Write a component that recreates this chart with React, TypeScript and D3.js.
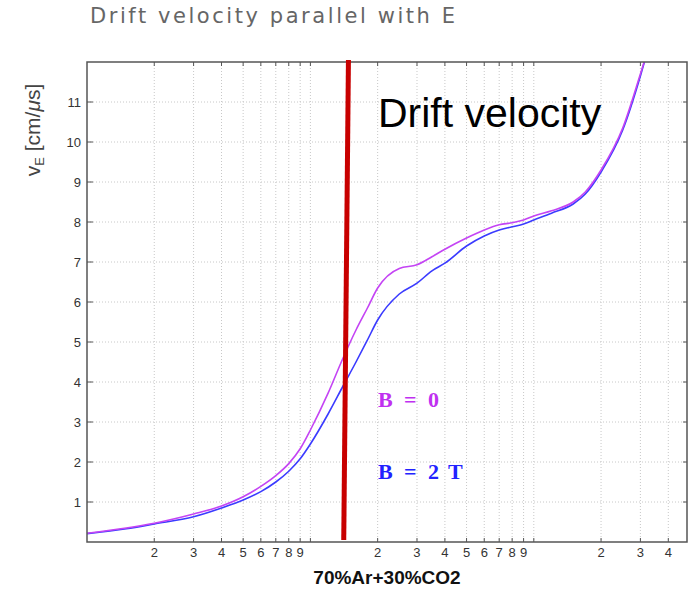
import React from "react";
import * as d3 from "d3";

// E field (log axis) and drift velocity in cm/us
const eField = [1, 1.5, 2, 3, 4, 5, 6, 7, 8, 9, 10, 12, 14, 16, 18, 20, 25, 30, 35, 40, 50, 60, 70, 80, 90, 100, 120, 150, 170, 200, 250, 300, 320];
const vB0 = [0.22, 0.35, 0.47, 0.7, 0.9, 1.13, 1.39, 1.66, 1.96, 2.33, 2.8, 3.72, 4.6, 5.3, 5.85, 6.35, 6.84, 6.93, 7.13, 7.32, 7.6, 7.8, 7.93, 7.98, 8.05, 8.15, 8.28, 8.5, 8.75, 9.3, 10.35, 11.7, 12.2];
const vB2T = [0.21, 0.33, 0.45, 0.63, 0.85, 1.05, 1.26, 1.5, 1.77, 2.08, 2.45, 3.2, 3.9, 4.5, 5.05, 5.55, 6.2, 6.47, 6.78, 6.97, 7.4, 7.65, 7.8, 7.88, 7.95, 8.05, 8.22, 8.45, 8.7, 9.25, 10.3, 11.65, 12.2];

const xTicks = [2, 3, 4, 5, 6, 7, 8, 9, 10, 20, 30, 40, 50, 60, 70, 80, 90, 100, 200, 300, 400];
const yTicks = [1, 2, 3, 4, 5, 6, 7, 8, 9, 10, 11];

// the hand drawn red marker
const markerE = [14.8, 14.1];
const markerV = [12.05, 0.05];

const W = 689;
const H = 589;
const m = { left: 87, right: 687, top: 62, bottom: 542 };

const App = () => {
  const x = d3.scaleLog().domain([1, 485]).range([m.left, m.right]);
  const y = d3.scaleLinear().domain([0, 12]).range([m.bottom, m.top]);

  const line = d3
    .line<number>()
    .x((d, i) => x(eField[i]))
    .y(d => y(d))
    .curve(d3.curveMonotoneX);

  const tickLabel = (t: number) => {
    const s = String(t);
    return s[0] === "1" ? "" : s[0];
  };

  return (
    <svg width={W} height={H} style={{ position: "absolute", left: 0, top: 0, background: "#fff" }}>
      <defs>
        <clipPath id="plot">
          <rect x={m.left} y={m.top} width={m.right - m.left} height={m.bottom - m.top} />
        </clipPath>
      </defs>

      <text x={90} y={23} fontFamily="DejaVu Sans" fontSize={21} fill="#666" textLength={365} lengthAdjust="spacing">
        Drift velocity parallel with E
      </text>

      {/* grid */}
      <g stroke="#c8c8c8" strokeWidth={1} strokeDasharray="1,2">
        {xTicks.map(t => (
          <line key={"gx" + t} x1={x(t)} x2={x(t)} y1={m.top} y2={m.bottom} />
        ))}
        {yTicks.map(t => (
          <line key={"gy" + t} x1={m.left} x2={m.right} y1={y(t)} y2={y(t)} />
        ))}
      </g>

      {/* ticks */}
      <g stroke="#555" strokeWidth={1}>
        {xTicks.map(t => (
          <g key={"tx" + t}>
            <line x1={x(t)} x2={x(t)} y1={m.bottom} y2={m.bottom - 4} />
            <line x1={x(t)} x2={x(t)} y1={m.top} y2={m.top + 4} />
          </g>
        ))}
        {yTicks.map(t => (
          <g key={"ty" + t}>
            <line x1={m.left} x2={m.left + 6} y1={y(t)} y2={y(t)} />
            <line x1={m.right} x2={m.right - 4} y1={y(t)} y2={y(t)} />
          </g>
        ))}
      </g>

      <g fontFamily="Liberation Sans, Arial" fontSize={13} fill="#333">
        {xTicks.map(t => (
          <text key={"lx" + t} x={x(t)} y={557} textAnchor="middle">
            {tickLabel(t)}
          </text>
        ))}
        {yTicks.map(t => (
          <text key={"ly" + t} x={81} y={y(t) + 5} textAnchor="end">
            {t}
          </text>
        ))}
      </g>

      <g clipPath="url(#plot)" fill="none" strokeWidth={1.6}>
        <path d={line(vB2T) || ""} stroke="#3b3bff" />
        <path d={line(vB0) || ""} stroke="#c444f4" />
      </g>

      <rect x={m.left} y={m.top} width={m.right - m.left} height={m.bottom - m.top} fill="none" stroke="#555" strokeWidth={1.5} />

      <line
        x1={x(markerE[0])}
        y1={y(markerV[0])}
        x2={x(markerE[1])}
        y2={y(markerV[1])}
        stroke="#c80000"
        strokeWidth={5}
      />

      <text x={378} y={127} fontFamily="Liberation Sans, Arial" fontSize={41} fill="#000">
        Drift velocity
      </text>

      <text x={378} y={407} fontFamily="Liberation Serif, Times New Roman" fontSize={22} fontWeight="bold" fill="#c030f0">
        <tspan>B</tspan>
        <tspan x={404}>=</tspan>
        <tspan x={428}>0</tspan>
      </text>
      <text x={378} y={479} fontFamily="Liberation Serif, Times New Roman" fontSize={22} fontWeight="bold" fill="#2222ff">
        <tspan>B</tspan>
        <tspan x={404}>=</tspan>
        <tspan x={428}>2</tspan>
        <tspan x={448}>T</tspan>
      </text>

      <text
        transform="translate(40,130) rotate(-90)"
        textAnchor="middle"
        fontFamily="Liberation Sans, Arial"
        fontSize={21}
        fill="#444"
      >
        v<tspan fontSize={13} dy={4}>E</tspan>
        <tspan dy={-4}> [cm/</tspan>
        <tspan fontStyle="italic">μ</tspan>s]
      </text>

      <text x={(m.left + m.right) / 2} y={584} textAnchor="middle" fontFamily="Liberation Sans, Arial" fontWeight="bold" fontSize={19} fill="#111">
        70%Ar+30%CO2
      </text>
    </svg>
  );
};

export default App;
